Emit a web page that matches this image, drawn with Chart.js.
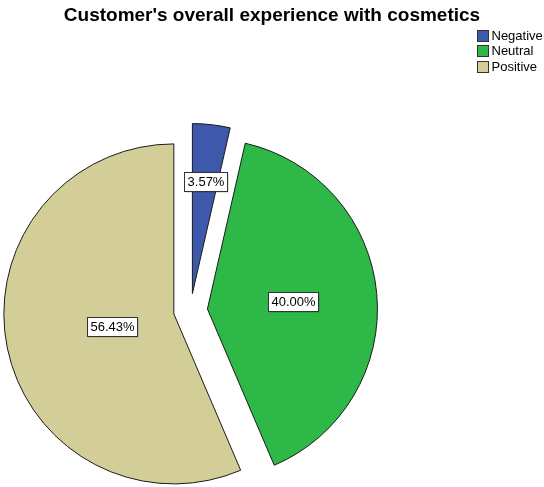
<!DOCTYPE html>
<html>
<head>
<meta charset="utf-8">
<script src="https://cdn.jsdelivr.net/npm/chart.js@4.4.1/dist/chart.umd.min.js"></script>
<style>
  html, body { margin: 0; padding: 0; background: #fff; }
  canvas { display: block; }
</style>
</head>
<body>
<canvas id="chart" width="544" height="487"></canvas>
<script>
// Share of customers by overall experience (percent)
const categories = ['Negative', 'Neutral', 'Positive'];
const percentages = [3.57, 40.00, 56.43];
const sliceColors = ['#3E58AC', '#2EB848', '#D3CE97'];
const chartTitle = "Customer's overall experience with cosmetics";

const FONT = '"Liberation Sans", Arial, Helvetica, sans-serif';
const EXPLODE = 17; // distance every slice is pulled out from the centre

// Pull each slice outward along its bisector after the library lays it out
const explodeSlices = {
  id: 'explodeSlices',
  afterDatasetsUpdate(chart) {
    chart.getDatasetMeta(0).data.forEach(arc => {
      const mid = (arc.startAngle + arc.endAngle) / 2;
      arc.x += Math.cos(mid) * EXPLODE;
      arc.y += Math.sin(mid) * EXPLODE;
    });
  }
};

// Boxed percentage labels at each slice's area centroid
const valueLabels = {
  id: 'valueLabels',
  afterDatasetsDraw(chart) {
    const ctx = chart.ctx;
    const values = chart.data.datasets[0].data;
    ctx.save();
    ctx.font = '13px ' + FONT;
    ctx.textAlign = 'center';
    ctx.textBaseline = 'middle';
    chart.getDatasetMeta(0).data.forEach((arc, i) => {
      const span = arc.endAngle - arc.startAngle;
      const mid = (arc.startAngle + arc.endAngle) / 2;
      const d = 4 * arc.outerRadius * Math.sin(span / 2) / (3 * span);
      const cx = arc.x + Math.cos(mid) * d;
      const cy = arc.y + Math.sin(mid) * d;
      const text = values[i].toFixed(2) + '%';
      const w = Math.round(ctx.measureText(text).width + 6);
      const h = 19;
      const bx = Math.round(cx - w / 2) + 0.5;
      const by = Math.round(cy - h / 2) + 0.5;
      ctx.fillStyle = 'rgba(0,0,0,0.22)';
      ctx.fillRect(bx + 1, by + 1, w, h);
      ctx.fillStyle = '#ffffff';
      ctx.fillRect(bx, by, w, h);
      ctx.strokeStyle = '#333333';
      ctx.lineWidth = 1;
      ctx.strokeRect(bx, by, w, h);
      ctx.fillStyle = '#000000';
      ctx.fillText(text, bx + w / 2, by + h / 2 + 0.5);
    });
    ctx.restore();
  }
};

// Title across the top and a stacked legend in the top-right corner
const titleAndLegend = {
  id: 'titleAndLegend',
  afterDraw(chart) {
    const ctx = chart.ctx;
    ctx.save();
    ctx.fillStyle = '#000000';
    ctx.font = 'bold 19px ' + FONT;
    ctx.textAlign = 'center';
    ctx.textBaseline = 'alphabetic';
    ctx.fillText(chartTitle, chart.width / 2, 20.5);

    const colors = chart.data.datasets[0].backgroundColor;
    ctx.font = '13px ' + FONT;
    ctx.textAlign = 'left';
    ctx.textBaseline = 'middle';
    chart.data.labels.forEach((label, i) => {
      const y = 29.5 + i * 15.7;
      ctx.fillStyle = colors[i];
      ctx.fillRect(477.5, Math.round(y) + 0.5, 11, 11);
      ctx.strokeStyle = '#333333';
      ctx.lineWidth = 1;
      ctx.strokeRect(477.5, Math.round(y) + 0.5, 11, 11);
      ctx.fillStyle = '#000000';
      ctx.fillText(label, 491.5, Math.round(y) + 6.5);
    });
    ctx.restore();
  }
};

new Chart(document.getElementById('chart'), {
  type: 'pie',
  data: {
    labels: categories,
    datasets: [{
      data: percentages,
      backgroundColor: sliceColors,
      borderColor: '#1a1a1a',
      borderWidth: 1
    }]
  },
  options: {
    responsive: false,
    animation: false,
    devicePixelRatio: 1,
    layout: { padding: { left: 20, right: 183, top: 140, bottom: 6 } },
    plugins: {
      legend: { display: false },
      title: { display: false },
      tooltip: { enabled: false }
    }
  },
  plugins: [explodeSlices, valueLabels, titleAndLegend]
});
</script>
</body>
</html>
